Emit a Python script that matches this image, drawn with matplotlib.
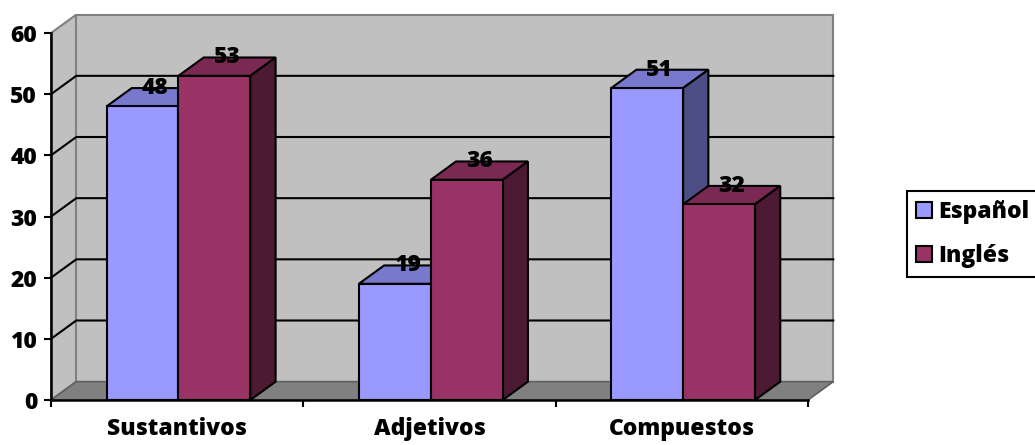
import matplotlib.pyplot as plt
from matplotlib.patches import Polygon, Patch

categories = ["Sustantivos", "Adjetivos", "Compuestos"]
series_names = ["Español", "Inglés"]
espanol = [48, 19, 51]
ingles = [53, 36, 32]

# front, top and side shades for each series
colors_es = ("#9999FF", "#7878CC", "#4E4E86")
colors_en = ("#993366", "#7A2952", "#4D1A33")

DX, DY = 0.1, 3.0      # depth of the 3d look, in data units
BAR_W = 0.285
GROUP_START = 0.22
YMAX = 60

plt.rcParams["font.family"] = "Open Sans"
plt.rcParams["font.weight"] = 800
plt.rcParams["font.size"] = 16.5

fig = plt.figure(figsize=(10.35, 4.45), dpi=100)
ax = fig.add_axes([0.0493, 0.1011, 0.7314, 0.8247])
n = len(categories)
ax.set_xlim(0, n)
ax.set_ylim(0, YMAX)
ax.patch.set_visible(False)

# walls and floor
wall, wall_edge = "#C0C0C0", "#808080"
ax.add_patch(Polygon([(0, 0), (0, YMAX), (DX, YMAX + DY), (DX, DY)],
                     fc=wall, ec=wall_edge, lw=1.5, clip_on=False, zorder=0))
ax.add_patch(Polygon([(DX, DY), (DX, YMAX + DY), (n + DX, YMAX + DY), (n + DX, DY)],
                     fc=wall, ec=wall_edge, lw=1.5, clip_on=False, zorder=0))
ax.add_patch(Polygon([(0, 0), (n, 0), (n + DX, DY), (DX, DY)],
                     fc="#808080", ec="#606060", lw=1.2, clip_on=False, zorder=1))
for v in range(10, YMAX, 10):
    ax.plot([0, DX, n + DX], [v, v + DY, v + DY], color="black", lw=1.5,
            clip_on=False, zorder=1)


def draw_bar(x0, h, cols, z):
    front, top, side = cols
    x1 = x0 + BAR_W
    ax.add_patch(Polygon([(x0, h), (x0 + DX, h + DY), (x1 + DX, h + DY), (x1, h)],
                         fc=top, ec="black", lw=1.5, clip_on=False, zorder=z))
    ax.add_patch(Polygon([(x1, 0), (x1 + DX, DY), (x1 + DX, h + DY), (x1, h)],
                         fc=side, ec="black", lw=1.5, clip_on=False, zorder=z))
    ax.bar(x0, h, width=BAR_W, align="edge", color=front, edgecolor="black",
           lw=1.5, zorder=z + 0.5)
    ax.text(x0 + BAR_W / 2 + DX / 2, h + DY, str(h), ha="center", va="center",
            zorder=20)


z = 3
for i in range(n):
    x0 = i + GROUP_START
    draw_bar(x0, espanol[i], colors_es, z)
    draw_bar(x0 + BAR_W, ingles[i], colors_en, z + 1)
    z += 2

# axes, ticks and labels
for side in ("top", "right"):
    ax.spines[side].set_visible(False)
for side in ("left", "bottom"):
    ax.spines[side].set_linewidth(1.8)
    ax.spines[side].set_zorder(15)

ax.set_xticks(range(n + 1))
ax.set_xticklabels([])
ax.set_xticks([i + 0.5 for i in range(n)], minor=True)
ax.set_xticklabels(categories, minor=True)
ax.tick_params(axis="x", which="major", length=5, width=1.5, direction="out")
ax.tick_params(axis="x", which="minor", length=0, pad=12)
ax.set_yticks(range(0, YMAX + 1, 10))
ax.tick_params(axis="y", length=5, width=1.5, pad=5)

handles = [Patch(fc=colors_es[0], ec="black", lw=1.5),
           Patch(fc=colors_en[0], ec="black", lw=1.5)]
leg = fig.legend(handles, series_names, loc="lower left",
                 bbox_to_anchor=(907 / 1035, 168 / 445), frameon=True,
                 fancybox=False, edgecolor="black", framealpha=1,
                 handlelength=0.7, handleheight=0.7, handletextpad=0.25,
                 labelspacing=0.85, borderpad=0.4, borderaxespad=0)
leg.get_frame().set_linewidth(1.5)

fig.savefig("out.png", dpi=100)
